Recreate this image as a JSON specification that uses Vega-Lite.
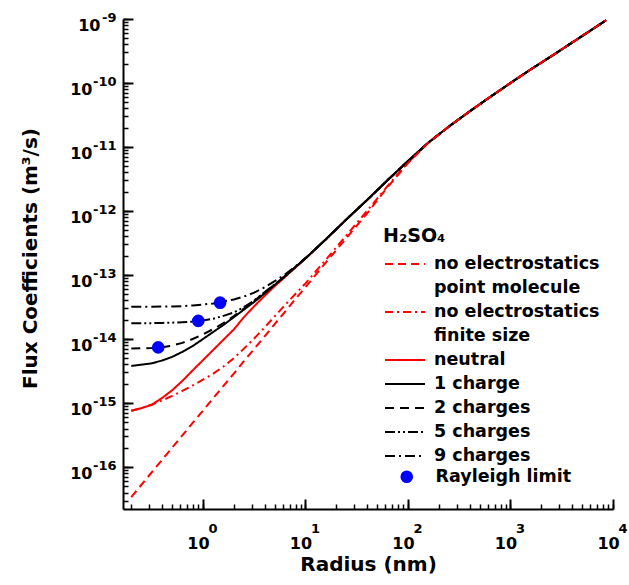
{
  "$schema": "https://vega.github.io/schema/vega-lite/v6.json",
  "width": 490,
  "height": 490,
  "autosize": {"type": "none"},
  "padding": {"left": 123, "top": 19, "right": 16, "bottom": 76},
  "background": "white",
  "config": {
    "view": {"stroke": null},
    "font": "DejaVu Sans",
    "style": {"guide-label": {"lineHeight": 24}}
  },
  "datasets": {
    "curves": [
      {"s": "9 charges", "r": 0.2, "F": 3.2e-14}, {"s": "9 charges", "r": 0.25, "F": 3.2e-14}, {"s": "9 charges", "r": 0.316, "F": 3.2e-14}, {"s": "9 charges", "r": 0.4, "F": 3.21e-14}, {"s": "9 charges", "r": 0.5, "F": 3.23e-14}, {"s": "9 charges", "r": 0.63, "F": 3.27e-14}, {"s": "9 charges", "r": 0.794, "F": 3.34e-14}, {"s": "9 charges", "r": 1, "F": 3.45e-14}, {"s": "9 charges", "r": 1.26, "F": 3.6e-14}, {"s": "9 charges", "r": 1.585, "F": 3.85e-14}, {"s": "9 charges", "r": 2, "F": 4.15e-14}, {"s": "9 charges", "r": 2.51, "F": 4.6e-14}, {"s": "9 charges", "r": 3.16, "F": 5.3e-14}, {"s": "9 charges", "r": 3.98, "F": 6.4e-14}, {"s": "9 charges", "r": 5.01, "F": 8.0e-14}, {"s": "9 charges", "r": 6.31, "F": 1.02e-13}, {"s": "9 charges", "r": 7.94, "F": 1.36e-13}, {"s": "9 charges", "r": 10, "F": 1.84e-13}, {"s": "9 charges", "r": 15.85, "F": 3.63e-13}, {"s": "9 charges", "r": 25.1, "F": 7.41e-13}, {"s": "9 charges", "r": 39.8, "F": 1.48e-12}, {"s": "9 charges", "r": 63.1, "F": 3.02e-12}, {"s": "9 charges", "r": 100, "F": 6.03e-12}, {"s": "9 charges", "r": 158, "F": 1.17e-11}, {"s": "9 charges", "r": 251, "F": 2.09e-11}, {"s": "9 charges", "r": 398, "F": 3.59e-11}, {"s": "9 charges", "r": 631, "F": 6.03e-11}, {"s": "9 charges", "r": 1000, "F": 1.0e-10}, {"s": "9 charges", "r": 1585, "F": 1.64e-10}, {"s": "9 charges", "r": 2512, "F": 2.63e-10}, {"s": "9 charges", "r": 3981, "F": 4.27e-10}, {"s": "9 charges", "r": 6310, "F": 6.92e-10}, {"s": "9 charges", "r": 8550, "F": 9.55e-10},
      {"s": "5 charges", "r": 0.2, "F": 1.76e-14}, {"s": "5 charges", "r": 0.25, "F": 1.765e-14}, {"s": "5 charges", "r": 0.316, "F": 1.77e-14}, {"s": "5 charges", "r": 0.4, "F": 1.785e-14}, {"s": "5 charges", "r": 0.5, "F": 1.8e-14}, {"s": "5 charges", "r": 0.63, "F": 1.83e-14}, {"s": "5 charges", "r": 0.794, "F": 1.87e-14}, {"s": "5 charges", "r": 1, "F": 1.95e-14}, {"s": "5 charges", "r": 1.26, "F": 2.08e-14}, {"s": "5 charges", "r": 1.585, "F": 2.3e-14}, {"s": "5 charges", "r": 2, "F": 2.6e-14}, {"s": "5 charges", "r": 2.51, "F": 3.15e-14}, {"s": "5 charges", "r": 3.16, "F": 4.0e-14}, {"s": "5 charges", "r": 3.98, "F": 5.35e-14}, {"s": "5 charges", "r": 5.01, "F": 7.15e-14}, {"s": "5 charges", "r": 6.31, "F": 9.6e-14}, {"s": "5 charges", "r": 7.94, "F": 1.32e-13}, {"s": "5 charges", "r": 10, "F": 1.82e-13}, {"s": "5 charges", "r": 15.85, "F": 3.63e-13}, {"s": "5 charges", "r": 25.1, "F": 7.41e-13}, {"s": "5 charges", "r": 39.8, "F": 1.48e-12}, {"s": "5 charges", "r": 63.1, "F": 3.02e-12}, {"s": "5 charges", "r": 100, "F": 6.03e-12}, {"s": "5 charges", "r": 158, "F": 1.17e-11}, {"s": "5 charges", "r": 251, "F": 2.09e-11}, {"s": "5 charges", "r": 398, "F": 3.59e-11}, {"s": "5 charges", "r": 631, "F": 6.03e-11}, {"s": "5 charges", "r": 1000, "F": 1.0e-10}, {"s": "5 charges", "r": 1585, "F": 1.64e-10}, {"s": "5 charges", "r": 2512, "F": 2.63e-10}, {"s": "5 charges", "r": 3981, "F": 4.27e-10}, {"s": "5 charges", "r": 6310, "F": 6.92e-10}, {"s": "5 charges", "r": 8550, "F": 9.55e-10},
      {"s": "2 charges", "r": 0.2, "F": 7.1e-15}, {"s": "2 charges", "r": 0.25, "F": 7.15e-15}, {"s": "2 charges", "r": 0.316, "F": 7.25e-15}, {"s": "2 charges", "r": 0.4, "F": 7.45e-15}, {"s": "2 charges", "r": 0.5, "F": 7.9e-15}, {"s": "2 charges", "r": 0.63, "F": 8.7e-15}, {"s": "2 charges", "r": 0.794, "F": 1.0e-14}, {"s": "2 charges", "r": 1, "F": 1.18e-14}, {"s": "2 charges", "r": 1.26, "F": 1.43e-14}, {"s": "2 charges", "r": 1.585, "F": 1.78e-14}, {"s": "2 charges", "r": 2, "F": 2.28e-14}, {"s": "2 charges", "r": 2.51, "F": 3.0e-14}, {"s": "2 charges", "r": 3.16, "F": 3.95e-14}, {"s": "2 charges", "r": 3.98, "F": 5.35e-14}, {"s": "2 charges", "r": 5.01, "F": 7.15e-14}, {"s": "2 charges", "r": 6.31, "F": 9.6e-14}, {"s": "2 charges", "r": 7.94, "F": 1.32e-13}, {"s": "2 charges", "r": 10, "F": 1.82e-13}, {"s": "2 charges", "r": 15.85, "F": 3.63e-13}, {"s": "2 charges", "r": 25.1, "F": 7.41e-13}, {"s": "2 charges", "r": 39.8, "F": 1.48e-12}, {"s": "2 charges", "r": 63.1, "F": 3.02e-12}, {"s": "2 charges", "r": 100, "F": 6.03e-12}, {"s": "2 charges", "r": 158, "F": 1.17e-11}, {"s": "2 charges", "r": 251, "F": 2.09e-11}, {"s": "2 charges", "r": 398, "F": 3.59e-11}, {"s": "2 charges", "r": 631, "F": 6.03e-11}, {"s": "2 charges", "r": 1000, "F": 1.0e-10}, {"s": "2 charges", "r": 1585, "F": 1.64e-10}, {"s": "2 charges", "r": 2512, "F": 2.63e-10}, {"s": "2 charges", "r": 3981, "F": 4.27e-10}, {"s": "2 charges", "r": 6310, "F": 6.92e-10}, {"s": "2 charges", "r": 8550, "F": 9.55e-10},
      {"s": "1 charge", "r": 0.2, "F": 3.8e-15}, {"s": "1 charge", "r": 0.25, "F": 3.98e-15}, {"s": "1 charge", "r": 0.316, "F": 4.17e-15}, {"s": "1 charge", "r": 0.4, "F": 4.62e-15}, {"s": "1 charge", "r": 0.5, "F": 5.25e-15}, {"s": "1 charge", "r": 0.63, "F": 6.31e-15}, {"s": "1 charge", "r": 0.794, "F": 7.76e-15}, {"s": "1 charge", "r": 1, "F": 1.0e-14}, {"s": "1 charge", "r": 1.26, "F": 1.29e-14}, {"s": "1 charge", "r": 1.585, "F": 1.66e-14}, {"s": "1 charge", "r": 2, "F": 2.19e-14}, {"s": "1 charge", "r": 2.51, "F": 2.88e-14}, {"s": "1 charge", "r": 3.16, "F": 3.8e-14}, {"s": "1 charge", "r": 3.98, "F": 5.13e-14}, {"s": "1 charge", "r": 5.01, "F": 7.0e-14}, {"s": "1 charge", "r": 6.31, "F": 9.55e-14}, {"s": "1 charge", "r": 7.94, "F": 1.32e-13}, {"s": "1 charge", "r": 10, "F": 1.82e-13}, {"s": "1 charge", "r": 15.85, "F": 3.63e-13}, {"s": "1 charge", "r": 25.1, "F": 7.41e-13}, {"s": "1 charge", "r": 39.8, "F": 1.48e-12}, {"s": "1 charge", "r": 63.1, "F": 3.02e-12}, {"s": "1 charge", "r": 100, "F": 6.03e-12}, {"s": "1 charge", "r": 158, "F": 1.17e-11}, {"s": "1 charge", "r": 251, "F": 2.09e-11}, {"s": "1 charge", "r": 398, "F": 3.59e-11}, {"s": "1 charge", "r": 631, "F": 6.03e-11}, {"s": "1 charge", "r": 1000, "F": 1.0e-10}, {"s": "1 charge", "r": 1585, "F": 1.64e-10}, {"s": "1 charge", "r": 2512, "F": 2.63e-10}, {"s": "1 charge", "r": 3981, "F": 4.27e-10}, {"s": "1 charge", "r": 6310, "F": 6.92e-10}, {"s": "1 charge", "r": 8550, "F": 9.55e-10},
      {"s": "neutral", "r": 0.2, "F": 7.6e-16}, {"s": "neutral", "r": 0.25, "F": 8.3e-16}, {"s": "neutral", "r": 0.316, "F": 9.4e-16}, {"s": "neutral", "r": 0.4, "F": 1.2e-15}, {"s": "neutral", "r": 0.5, "F": 1.58e-15}, {"s": "neutral", "r": 0.63, "F": 2.22e-15}, {"s": "neutral", "r": 0.794, "F": 3.24e-15}, {"s": "neutral", "r": 1, "F": 4.68e-15}, {"s": "neutral", "r": 1.26, "F": 6.76e-15}, {"s": "neutral", "r": 1.585, "F": 9.77e-15}, {"s": "neutral", "r": 2, "F": 1.41e-14}, {"s": "neutral", "r": 2.51, "F": 2.2e-14}, {"s": "neutral", "r": 3.16, "F": 3.25e-14}, {"s": "neutral", "r": 3.98, "F": 4.7e-14}, {"s": "neutral", "r": 5.01, "F": 6.7e-14}, {"s": "neutral", "r": 6.31, "F": 9.3e-14}, {"s": "neutral", "r": 7.94, "F": 1.3e-13}, {"s": "neutral", "r": 10, "F": 1.8e-13}, {"s": "neutral", "r": 15.85, "F": 3.63e-13}, {"s": "neutral", "r": 25.1, "F": 7.41e-13}, {"s": "neutral", "r": 39.8, "F": 1.48e-12}, {"s": "neutral", "r": 63.1, "F": 3.02e-12}, {"s": "neutral", "r": 100, "F": 6.03e-12}, {"s": "neutral", "r": 158, "F": 1.17e-11}, {"s": "neutral", "r": 251, "F": 2.09e-11}, {"s": "neutral", "r": 398, "F": 3.59e-11}, {"s": "neutral", "r": 631, "F": 6.03e-11}, {"s": "neutral", "r": 1000, "F": 1.0e-10}, {"s": "neutral", "r": 1585, "F": 1.64e-10}, {"s": "neutral", "r": 2512, "F": 2.63e-10}, {"s": "neutral", "r": 3981, "F": 4.27e-10}, {"s": "neutral", "r": 6310, "F": 6.92e-10}, {"s": "neutral", "r": 8550, "F": 9.55e-10},
      {"s": "no electrostatics, finite size", "r": 0.2, "F": 7.6e-16}, {"s": "no electrostatics, finite size", "r": 0.25, "F": 8.3e-16}, {"s": "no electrostatics, finite size", "r": 0.316, "F": 9.4e-16}, {"s": "no electrostatics, finite size", "r": 0.4, "F": 1.1e-15}, {"s": "no electrostatics, finite size", "r": 0.5, "F": 1.29e-15}, {"s": "no electrostatics, finite size", "r": 0.63, "F": 1.55e-15}, {"s": "no electrostatics, finite size", "r": 0.794, "F": 1.88e-15}, {"s": "no electrostatics, finite size", "r": 1, "F": 2.32e-15}, {"s": "no electrostatics, finite size", "r": 1.26, "F": 2.88e-15}, {"s": "no electrostatics, finite size", "r": 1.585, "F": 3.72e-15}, {"s": "no electrostatics, finite size", "r": 2, "F": 5.01e-15}, {"s": "no electrostatics, finite size", "r": 2.51, "F": 7.08e-15}, {"s": "no electrostatics, finite size", "r": 3.16, "F": 1.02e-14}, {"s": "no electrostatics, finite size", "r": 3.98, "F": 1.51e-14}, {"s": "no electrostatics, finite size", "r": 5.01, "F": 2.26e-14}, {"s": "no electrostatics, finite size", "r": 6.31, "F": 3.39e-14}, {"s": "no electrostatics, finite size", "r": 7.94, "F": 5.01e-14}, {"s": "no electrostatics, finite size", "r": 10, "F": 7.41e-14}, {"s": "no electrostatics, finite size", "r": 15.85, "F": 1.74e-13}, {"s": "no electrostatics, finite size", "r": 25.1, "F": 4.17e-13}, {"s": "no electrostatics, finite size", "r": 39.8, "F": 1.0e-12}, {"s": "no electrostatics, finite size", "r": 63.1, "F": 2.45e-12}, {"s": "no electrostatics, finite size", "r": 100, "F": 5.7e-12}, {"s": "no electrostatics, finite size", "r": 158, "F": 1.17e-11}, {"s": "no electrostatics, finite size", "r": 251, "F": 2.09e-11}, {"s": "no electrostatics, finite size", "r": 398, "F": 3.59e-11}, {"s": "no electrostatics, finite size", "r": 631, "F": 6.03e-11}, {"s": "no electrostatics, finite size", "r": 1000, "F": 1.0e-10}, {"s": "no electrostatics, finite size", "r": 1585, "F": 1.64e-10}, {"s": "no electrostatics, finite size", "r": 2512, "F": 2.63e-10}, {"s": "no electrostatics, finite size", "r": 3981, "F": 4.27e-10}, {"s": "no electrostatics, finite size", "r": 6310, "F": 6.92e-10}, {"s": "no electrostatics, finite size", "r": 8550, "F": 9.55e-10},
      {"s": "no electrostatics, point molecule", "r": 0.2, "F": 3.4e-17}, {"s": "no electrostatics, point molecule", "r": 0.25, "F": 5.24e-17}, {"s": "no electrostatics, point molecule", "r": 0.316, "F": 8.24e-17}, {"s": "no electrostatics, point molecule", "r": 0.4, "F": 1.3e-16}, {"s": "no electrostatics, point molecule", "r": 0.5, "F": 2.0e-16}, {"s": "no electrostatics, point molecule", "r": 0.63, "F": 3.13e-16}, {"s": "no electrostatics, point molecule", "r": 0.794, "F": 4.9e-16}, {"s": "no electrostatics, point molecule", "r": 1, "F": 7.6e-16}, {"s": "no electrostatics, point molecule", "r": 1.26, "F": 1.19e-15}, {"s": "no electrostatics, point molecule", "r": 1.585, "F": 1.85e-15}, {"s": "no electrostatics, point molecule", "r": 2, "F": 2.88e-15}, {"s": "no electrostatics, point molecule", "r": 2.51, "F": 4.5e-15}, {"s": "no electrostatics, point molecule", "r": 3.16, "F": 7.0e-15}, {"s": "no electrostatics, point molecule", "r": 3.98, "F": 1.09e-14}, {"s": "no electrostatics, point molecule", "r": 5.01, "F": 1.71e-14}, {"s": "no electrostatics, point molecule", "r": 6.31, "F": 2.66e-14}, {"s": "no electrostatics, point molecule", "r": 7.94, "F": 4.17e-14}, {"s": "no electrostatics, point molecule", "r": 10, "F": 6.46e-14}, {"s": "no electrostatics, point molecule", "r": 15.85, "F": 1.58e-13}, {"s": "no electrostatics, point molecule", "r": 25.1, "F": 3.8e-13}, {"s": "no electrostatics, point molecule", "r": 39.8, "F": 9.12e-13}, {"s": "no electrostatics, point molecule", "r": 63.1, "F": 2.35e-12}, {"s": "no electrostatics, point molecule", "r": 100, "F": 5.6e-12}, {"s": "no electrostatics, point molecule", "r": 158, "F": 1.17e-11}, {"s": "no electrostatics, point molecule", "r": 251, "F": 2.09e-11}, {"s": "no electrostatics, point molecule", "r": 398, "F": 3.59e-11}, {"s": "no electrostatics, point molecule", "r": 631, "F": 6.03e-11}, {"s": "no electrostatics, point molecule", "r": 1000, "F": 1.0e-10}, {"s": "no electrostatics, point molecule", "r": 1585, "F": 1.64e-10}, {"s": "no electrostatics, point molecule", "r": 2512, "F": 2.63e-10}, {"s": "no electrostatics, point molecule", "r": 3981, "F": 4.27e-10}, {"s": "no electrostatics, point molecule", "r": 6310, "F": 6.92e-10}, {"s": "no electrostatics, point molecule", "r": 8550, "F": 9.55e-10}
    ],
    "rayleigh": [
      {"s": "Rayleigh limit", "r": 0.366, "F": 7.4e-15},
      {"s": "Rayleigh limit", "r": 0.9, "F": 1.92e-14},
      {"s": "Rayleigh limit", "r": 1.47, "F": 3.7e-14}
    ]
  },
  "layer": [
    {
      "data": {"name": "curves"},
      "transform": [{"filter": "datum.s == 'neutral' || datum.s == 'no electrostatics, finite size'"}],
      "mark": {"type": "line", "strokeWidth": 2},
      "encoding": {
        "x": {
          "field": "r", "type": "quantitative",
          "scale": {"type": "log", "domain": [0.166, 10000], "nice": false},
          "axis": {
            "orient": "bottom", "values": [1, 10, 100, 1000, 10000],
            "ticks": false, "tickSize": 0,
            "domainColor": "black", "domainWidth": 2, "grid": false,
            "labelExpr": "'10'", "labelFont": "DejaVu Sans", "labelFontWeight": "bold", "labelFontSize": 16, "labelColor": "black",
            "labelAlign": "center", "labelBaseline": "middle", "labelPadding": 34, "labelOffset": -5,
            "labelOverlap": false, "labelFlush": false, "labelBound": false,
            "title": "Radius (nm)", "titleFont": "DejaVu Sans", "titleFontSize": 20, "titleFontWeight": "bold", "titleColor": "black",
            "titleX": 245, "titleY": 55, "titleAlign": "center", "titleBaseline": "middle", "titleAngle": 0
          }
        },
        "y": {
          "field": "F", "type": "quantitative",
          "scale": {"type": "log", "domain": [2.21e-17, 1e-9], "nice": false},
          "axis": {
            "orient": "left", "values": [1e-16, 1e-15, 1e-14, 1e-13, 1e-12, 1e-11, 1e-10, 1e-9],
            "ticks": false, "tickSize": 0,
            "domainColor": "black", "domainWidth": 2, "grid": false,
            "labelExpr": "'10'", "labelFont": "DejaVu Sans", "labelFontWeight": "bold", "labelFontSize": 16, "labelColor": "black",
            "labelAlign": "right", "labelBaseline": "middle",
            "labelPadding": {"condition": {"test": "datum.value > 5e-10", "value": 23}, "value": 31},
            "labelOffset": 6,
            "labelOverlap": false, "labelFlush": false, "labelBound": false,
            "title": "Flux Coefficients (m³/s)", "titleFont": "DejaVu Sans", "titleFontSize": 20, "titleFontWeight": "bold", "titleColor": "black",
            "titleX": -93, "titleY": 239, "titleAlign": "center", "titleBaseline": "middle", "titleAngle": -90
          }
        },
        "color": {
          "field": "s", "type": "nominal",
          "scale": {
            "domain": ["no electrostatics, point molecule", "no electrostatics, finite size", "neutral", "1 charge", "2 charges", "5 charges", "9 charges"],
            "range": ["#ff0000", "#ff0000", "#ff0000", "#000000", "#000000", "#000000", "#000000"]
          },
          "legend": {
            "title": "H₂SO₄", "orient": "none", "legendX": 260, "legendY": 208, "padding": 0,
            "titleFont": "DejaVu Sans", "titleFontSize": 19, "titleFontWeight": "bold", "titleColor": "black", "titlePadding": 7,
            "labelFont": "DejaVu Sans", "labelFontSize": 17.5, "labelFontWeight": "bold", "labelColor": "black",
            "labelExpr": "split(datum.label, ', ')", "labelLimit": 400, "labelOffset": 18,
            "symbolType": "M-2,0H2", "symbolSize": 400, "symbolStrokeWidth": 2, "symbolOffset": 11, "rowPadding": 4
          }
        },
        "strokeDash": {
          "field": "s", "type": "nominal",
          "scale": {
            "domain": ["no electrostatics, point molecule", "no electrostatics, finite size", "neutral", "1 charge", "2 charges", "5 charges", "9 charges"],
            "range": [[8, 5], [8, 4, 2, 4], [1, 0], [1, 0], [9, 6], [10, 3, 2, 3, 2, 3], [10, 4, 2, 4]]
          },
          "legend": {
            "title": "H₂SO₄", "orient": "none", "legendX": 260, "legendY": 208, "padding": 0,
            "titleFont": "DejaVu Sans", "titleFontSize": 19, "titleFontWeight": "bold", "titleColor": "black", "titlePadding": 7,
            "labelFont": "DejaVu Sans", "labelFontSize": 17.5, "labelFontWeight": "bold", "labelColor": "black",
            "labelExpr": "split(datum.label, ', ')", "labelLimit": 400, "labelOffset": 18,
            "symbolType": "M-2,0H2", "symbolSize": 400, "symbolStrokeWidth": 2, "symbolOffset": 11, "rowPadding": 4
          }
        }
      }
    },
    {
      "data": {"name": "curves"},
      "transform": [{"filter": "indexof(datum.s, 'charge') >= 0"}],
      "mark": {"type": "line", "strokeWidth": 2},
      "encoding": {
        "x": {
          "field": "r", "type": "quantitative",
          "axis": {
            "orient": "bottom", "values": [1, 10, 100, 1000, 10000], "offset": -10,
            "tickSize": 10, "tickWidth": 2, "tickColor": "#000000",
            "domain": false, "grid": false, "labels": false, "title": null
          }
        },
        "y": {
          "field": "F", "type": "quantitative",
          "axis": {
            "orient": "left", "values": [1e-16, 1e-15, 1e-14, 1e-13, 1e-12, 1e-11, 1e-10, 1e-9], "offset": -10,
            "tickSize": 10, "tickWidth": 2, "tickColor": "#000000",
            "domain": false, "grid": false, "labels": false, "title": null
          }
        },
        "color": {
          "field": "s", "type": "nominal",
          "scale": {
            "domain": ["no electrostatics, point molecule", "no electrostatics, finite size", "neutral", "1 charge", "2 charges", "5 charges", "9 charges"],
            "range": ["#ff0000", "#ff0000", "#ff0000", "#000000", "#000000", "#000000", "#000000"]
          },
          "legend": {
            "title": "H₂SO₄", "orient": "none", "legendX": 260, "legendY": 208, "padding": 0,
            "titleFont": "DejaVu Sans", "titleFontSize": 19, "titleFontWeight": "bold", "titleColor": "black", "titlePadding": 7,
            "labelFont": "DejaVu Sans", "labelFontSize": 17.5, "labelFontWeight": "bold", "labelColor": "black",
            "labelExpr": "split(datum.label, ', ')", "labelLimit": 400, "labelOffset": 18,
            "symbolType": "M-2,0H2", "symbolSize": 400, "symbolStrokeWidth": 2, "symbolOffset": 11, "rowPadding": 4
          }
        },
        "strokeDash": {
          "field": "s", "type": "nominal",
          "scale": {
            "domain": ["no electrostatics, point molecule", "no electrostatics, finite size", "neutral", "1 charge", "2 charges", "5 charges", "9 charges"],
            "range": [[8, 5], [8, 4, 2, 4], [1, 0], [1, 0], [9, 6], [10, 3, 2, 3, 2, 3], [10, 4, 2, 4]]
          },
          "legend": {
            "title": "H₂SO₄", "orient": "none", "legendX": 260, "legendY": 208, "padding": 0,
            "titleFont": "DejaVu Sans", "titleFontSize": 19, "titleFontWeight": "bold", "titleColor": "black", "titlePadding": 7,
            "labelFont": "DejaVu Sans", "labelFontSize": 17.5, "labelFontWeight": "bold", "labelColor": "black",
            "labelExpr": "split(datum.label, ', ')", "labelLimit": 400, "labelOffset": 18,
            "symbolType": "M-2,0H2", "symbolSize": 400, "symbolStrokeWidth": 2, "symbolOffset": 11, "rowPadding": 4
          }
        }
      }
    },
    {
      "data": {"name": "curves"},
      "transform": [{"filter": "datum.s == 'no electrostatics, point molecule'"}],
      "mark": {"type": "line", "strokeWidth": 2},
      "encoding": {
        "x": {
          "field": "r", "type": "quantitative",
          "axis": {
            "orient": "bottom", "offset": -5,
            "values": [0.2, 0.3, 0.4, 0.5, 0.6, 0.7, 0.8, 0.9, 1, 2, 3, 4, 5, 6, 7, 8, 9, 10, 20, 30, 40, 50, 60, 70, 80, 90, 100, 200, 300, 400, 500, 600, 700, 800, 900, 1000, 2000, 3000, 4000, 5000, 6000, 7000, 8000, 9000, 10000],
            "tickSize": 5, "tickWidth": 1.5, "tickColor": "#000000", "domain": false, "grid": false,
            "labelExpr": "abs(log(datum.value)/LN10 - round(log(datum.value)/LN10)) < 0.001 ? '' + round(log(datum.value)/LN10) : ''",
            "labelFont": "DejaVu Sans", "labelFontWeight": "bold", "labelFontSize": 13, "labelColor": "black",
            "labelAlign": "left", "labelBaseline": "middle", "labelPadding": 19, "labelOffset": 5,
            "labelOverlap": false, "labelFlush": false, "labelBound": false, "title": null
          }
        },
        "y": {
          "field": "F", "type": "quantitative",
          "axis": {
            "orient": "left", "offset": -5,
            "values": [3e-17, 4e-17, 5e-17, 6e-17, 7e-17, 8e-17, 9e-17, 1e-16, 2e-16, 3e-16, 4e-16, 5e-16, 6e-16, 7e-16, 8e-16, 9e-16, 1e-15, 2e-15, 3e-15, 4e-15, 5e-15, 6e-15, 7e-15, 8e-15, 9e-15, 1e-14, 2e-14, 3e-14, 4e-14, 5e-14, 6e-14, 7e-14, 8e-14, 9e-14, 1e-13, 2e-13, 3e-13, 4e-13, 5e-13, 6e-13, 7e-13, 8e-13, 9e-13, 1e-12, 2e-12, 3e-12, 4e-12, 5e-12, 6e-12, 7e-12, 8e-12, 9e-12, 1e-11, 2e-11, 3e-11, 4e-11, 5e-11, 6e-11, 7e-11, 8e-11, 9e-11, 1e-10, 2e-10, 3e-10, 4e-10, 5e-10, 6e-10, 7e-10, 8e-10, 9e-10, 1e-9],
            "tickSize": 5, "tickWidth": 1.5, "tickColor": "#000000", "domain": false, "grid": false,
            "labelExpr": "abs(log(datum.value)/LN10 - round(log(datum.value)/LN10)) < 0.001 ? '' + round(log(datum.value)/LN10) : ''",
            "labelFont": "DejaVu Sans", "labelFontWeight": "bold", "labelFontSize": 13, "labelColor": "black",
            "labelAlign": "right", "labelBaseline": "middle", "labelPadding": 7, "labelOffset": -2,
            "labelOverlap": false, "labelFlush": false, "labelBound": false, "title": null
          }
        },
        "color": {
          "field": "s", "type": "nominal",
          "scale": {
            "domain": ["no electrostatics, point molecule", "no electrostatics, finite size", "neutral", "1 charge", "2 charges", "5 charges", "9 charges"],
            "range": ["#ff0000", "#ff0000", "#ff0000", "#000000", "#000000", "#000000", "#000000"]
          },
          "legend": {
            "title": "H₂SO₄", "orient": "none", "legendX": 260, "legendY": 208, "padding": 0,
            "titleFont": "DejaVu Sans", "titleFontSize": 19, "titleFontWeight": "bold", "titleColor": "black", "titlePadding": 7,
            "labelFont": "DejaVu Sans", "labelFontSize": 17.5, "labelFontWeight": "bold", "labelColor": "black",
            "labelExpr": "split(datum.label, ', ')", "labelLimit": 400, "labelOffset": 18,
            "symbolType": "M-2,0H2", "symbolSize": 400, "symbolStrokeWidth": 2, "symbolOffset": 11, "rowPadding": 4
          }
        },
        "strokeDash": {
          "field": "s", "type": "nominal",
          "scale": {
            "domain": ["no electrostatics, point molecule", "no electrostatics, finite size", "neutral", "1 charge", "2 charges", "5 charges", "9 charges"],
            "range": [[8, 5], [8, 4, 2, 4], [1, 0], [1, 0], [9, 6], [10, 3, 2, 3, 2, 3], [10, 4, 2, 4]]
          },
          "legend": {
            "title": "H₂SO₄", "orient": "none", "legendX": 260, "legendY": 208, "padding": 0,
            "titleFont": "DejaVu Sans", "titleFontSize": 19, "titleFontWeight": "bold", "titleColor": "black", "titlePadding": 7,
            "labelFont": "DejaVu Sans", "labelFontSize": 17.5, "labelFontWeight": "bold", "labelColor": "black",
            "labelExpr": "split(datum.label, ', ')", "labelLimit": 400, "labelOffset": 18,
            "symbolType": "M-2,0H2", "symbolSize": 400, "symbolStrokeWidth": 2, "symbolOffset": 11, "rowPadding": 4
          }
        }
      }
    },
    {
      "data": {"name": "rayleigh"},
      "mark": {"type": "point", "filled": true, "size": 160, "color": "#0000ff", "opacity": 1},
      "encoding": {
        "x": {"field": "r", "type": "quantitative", "axis": null},
        "y": {"field": "F", "type": "quantitative", "axis": null},
        "shape": {
          "field": "s", "type": "nominal",
          "scale": {"domain": ["Rayleigh limit"], "range": ["circle"]},
          "legend": {
            "title": null, "orient": "none", "legendX": 275, "legendY": 449, "padding": 0,
            "labelFont": "DejaVu Sans", "labelFontSize": 17.5, "labelFontWeight": "bold", "labelColor": "black",
            "labelOffset": 20, "symbolSize": 160, "symbolFillColor": "#0000ff", "symbolStrokeColor": "#0000ff", "symbolType": "circle"
          }
        }
      }
    }
  ],
  "resolve": {"axis": {"x": "independent", "y": "independent"}}
}
